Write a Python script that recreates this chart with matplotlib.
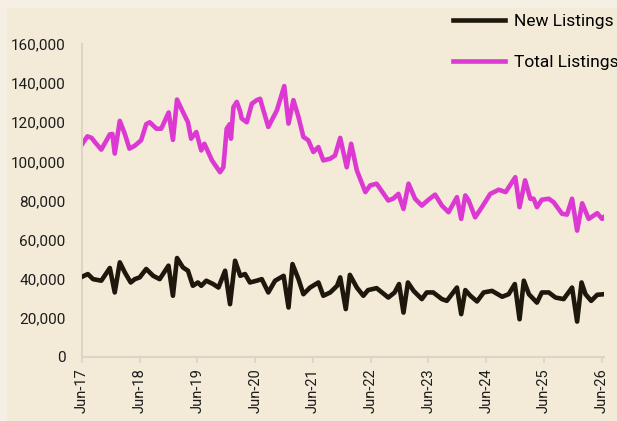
import pandas as pd
import matplotlib.pyplot as plt
import matplotlib.dates as mdates
from matplotlib.ticker import FuncFormatter

plt.rcParams['font.family'] = ['Roboto', 'DejaVu Sans']

# Total listings (dates, values)
total_dates = ["2017-06-01", "2017-07-05", "2017-08-01", "2017-08-20", "2017-10-01", "2017-11-24",
               "2017-12-10", "2017-12-25", "2018-01-26", "2018-02-27", "2018-03-28", "2018-05-01",
               "2018-06-10", "2018-07-12", "2018-08-03", "2018-09-15", "2018-10-15", "2018-12-01",
               "2018-12-28", "2019-01-23", "2019-03-01", "2019-04-02", "2019-04-22", "2019-05-25",
               "2019-06-25", "2019-07-15", "2019-09-01", "2019-10-22", "2019-11-12", "2019-12-03",
               "2019-12-22", "2019-12-30", "2020-01-15", "2020-02-05", "2020-02-27", "2020-03-07",
               "2020-04-08", "2020-05-10", "2020-06-10", "2020-07-01", "2020-08-22", "2020-10-15",
               "2020-12-01", "2020-12-28", "2021-01-28", "2021-03-01", "2021-04-01", "2021-05-02",
               "2021-06-03", "2021-07-05", "2021-08-05", "2021-09-18", "2021-10-18", "2021-11-20",
               "2021-12-31", "2022-01-28", "2022-03-05", "2022-04-28", "2022-05-28", "2022-07-08",
               "2022-09-20", "2022-10-22", "2022-11-23", "2022-12-25", "2023-01-26", "2023-03-08",
               "2023-04-20", "2023-06-01", "2023-07-13", "2023-08-25", "2023-10-06", "2023-11-28",
               "2023-12-25", "2024-01-20", "2024-02-10", "2024-03-22", "2024-05-04", "2024-06-26",
               "2024-08-18", "2024-10-01", "2024-12-01", "2024-12-28", "2025-02-01", "2025-03-06",
               "2025-03-27", "2025-04-17", "2025-05-18", "2025-07-01", "2025-08-01", "2025-09-23",
               "2025-10-24", "2025-11-25", "2025-12-27", "2026-01-28", "2026-03-10", "2026-05-03",
               "2026-06-03", "2026-06-15"]
total_values = [108700, 112800, 112000, 110000, 106000, 113800,
                114000, 104000, 120700, 114000, 106500, 108000,
                110800, 119000, 120000, 116700, 116700, 125000,
                111000, 131600, 125300, 120000, 111600, 115000,
                105600, 109000, 100500, 94500, 97000, 116700,
                119000, 111600, 127800, 130400, 125300, 121900,
                120000, 129500, 131300, 132000, 117600, 126000,
                138500, 119300, 131300, 122700, 112500, 110800,
                104800, 107300, 100500, 101400, 103000, 112000,
                97000, 109000, 95400, 84300, 87700, 88600,
                80000, 81000, 83400, 75700, 88600, 80900,
                77400, 80400, 83000, 77400, 74000, 81700,
                70600, 82600, 80000, 71400, 76600, 83400,
                85500, 84300, 91900, 76600, 90300, 80900,
                80900, 76600, 80400, 80900, 79100, 73200,
                72800, 80900, 64600, 78600, 70600, 73500,
                70600, 71500]

# New listings (dates, values)
new_dates = ["2017-06-01", "2017-07-08", "2017-08-10", "2017-10-01", "2017-11-24", "2017-12-25",
             "2018-01-26", "2018-02-27", "2018-04-05", "2018-05-01", "2018-06-01", "2018-07-12",
             "2018-08-25", "2018-10-05", "2018-11-30", "2018-12-28", "2019-01-23", "2019-03-01",
             "2019-04-02", "2019-05-03", "2019-06-04", "2019-06-25", "2019-07-27", "2019-09-08",
             "2019-10-12", "2019-11-23", "2019-12-24", "2020-01-25", "2020-02-27", "2020-03-28",
             "2020-04-28", "2020-06-10", "2020-07-12", "2020-08-22", "2020-10-04", "2020-11-27",
             "2020-12-28", "2021-01-22", "2021-03-01", "2021-04-01", "2021-05-13", "2021-07-05",
             "2021-08-05", "2021-09-18", "2021-10-31", "2021-11-20", "2021-12-25", "2022-01-20",
             "2022-03-05", "2022-04-15", "2022-05-15", "2022-07-08", "2022-09-20", "2022-10-30",
             "2022-11-27", "2022-12-25", "2023-01-22", "2023-02-27", "2023-04-20", "2023-05-21",
             "2023-07-01", "2023-08-25", "2023-09-25", "2023-11-28", "2023-12-25", "2024-01-20",
             "2024-02-21", "2024-04-03", "2024-05-15", "2024-07-07", "2024-09-09", "2024-10-20",
             "2024-11-28", "2024-12-28", "2025-01-24", "2025-02-25", "2025-04-17", "2025-05-18",
             "2025-07-01", "2025-08-12", "2025-10-03", "2025-11-25", "2025-12-27", "2026-01-24",
             "2026-02-18", "2026-03-26", "2026-05-03", "2026-06-15"]
new_values = [41000, 42400, 39800, 39000, 45500, 33000,
              48400, 43200, 38100, 39800, 40700, 45000,
              41500, 39800, 46700, 31300, 50600, 45800,
              44100, 36400, 38100, 36400, 39000, 37300,
              35500, 44100, 27000, 49200, 41500, 42400,
              38100, 39000, 39800, 33000, 39000, 41500,
              25300, 47500, 39800, 32100, 35500, 38100,
              31300, 33000, 36400, 40700, 24500, 42000,
              35500, 31300, 34200, 35200, 30400, 33000,
              37300, 22700, 38100, 33800, 29600, 33000,
              33000, 29600, 28700, 35500, 21900, 34200,
              31300, 28400, 33000, 33800, 30800, 32100,
              37300, 19300, 39000, 32100, 27800, 33000,
              33000, 30400, 29600, 35500, 18100, 38100,
              32100, 28700, 31800, 32100]

tick_years = list(range(2017, 2027))

outer_bg = "#f6efe3"
inner_bg = "#f3ead8"
pink = "#dc38d2"
dark = "#1e170c"
grid_grey = "#ddd4c6"

fig = plt.figure(figsize=(6.17, 4.21), dpi=100, facecolor=outer_bg)
bg = fig.add_axes([7 / 617, 0, 1, 1 - 8 / 421], zorder=-1)
bg.set_facecolor(inner_bg)
bg.set_xticks([])
bg.set_yticks([])
for s in bg.spines.values():
    s.set_visible(False)

ax = fig.add_axes([82 / 617, 64 / 421, 522 / 617, 313 / 421])
ax.set_facecolor("none")

ax.plot(pd.to_datetime(new_dates), new_values, color=dark, lw=3.3, label="New Listings",
        solid_joinstyle="round", zorder=3)
ax.plot(pd.to_datetime(total_dates), total_values, color=pink, lw=3.3, label="Total Listings",
        solid_joinstyle="round", zorder=2)

ax.set_ylim(0, 160000)
ax.set_yticks(range(0, 160001, 20000))
ax.yaxis.set_major_formatter(FuncFormatter(lambda v, p: f"{int(v):,}"))
ax.set_xlim(pd.Timestamp("2017-06-01"), pd.Timestamp("2026-06-15"))
ax.set_xticks(pd.to_datetime([f"{y}-06-01" for y in tick_years]))
ax.xaxis.set_major_formatter(mdates.DateFormatter("%b-%y"))

for s in ["top", "right"]:
    ax.spines[s].set_visible(False)
for s in ["left", "bottom"]:
    ax.spines[s].set_color(grid_grey)
    ax.spines[s].set_linewidth(1.5)

ax.tick_params(axis="y", length=0, pad=12, labelsize=11, labelcolor="#1c1c1c")
ax.tick_params(axis="x", length=4, width=1.2, color=grid_grey, pad=4, labelsize=10.5,
               labelcolor="#1c1c1c", labelrotation=90)

fig.legend(loc="upper right", bbox_to_anchor=(1.022, 0.995), frameon=False, fontsize=12.5,
           handlelength=3.0, labelspacing=1.45, handletextpad=0.5, borderaxespad=0.3)

fig.savefig("out.png", dpi=100, facecolor=outer_bg)
